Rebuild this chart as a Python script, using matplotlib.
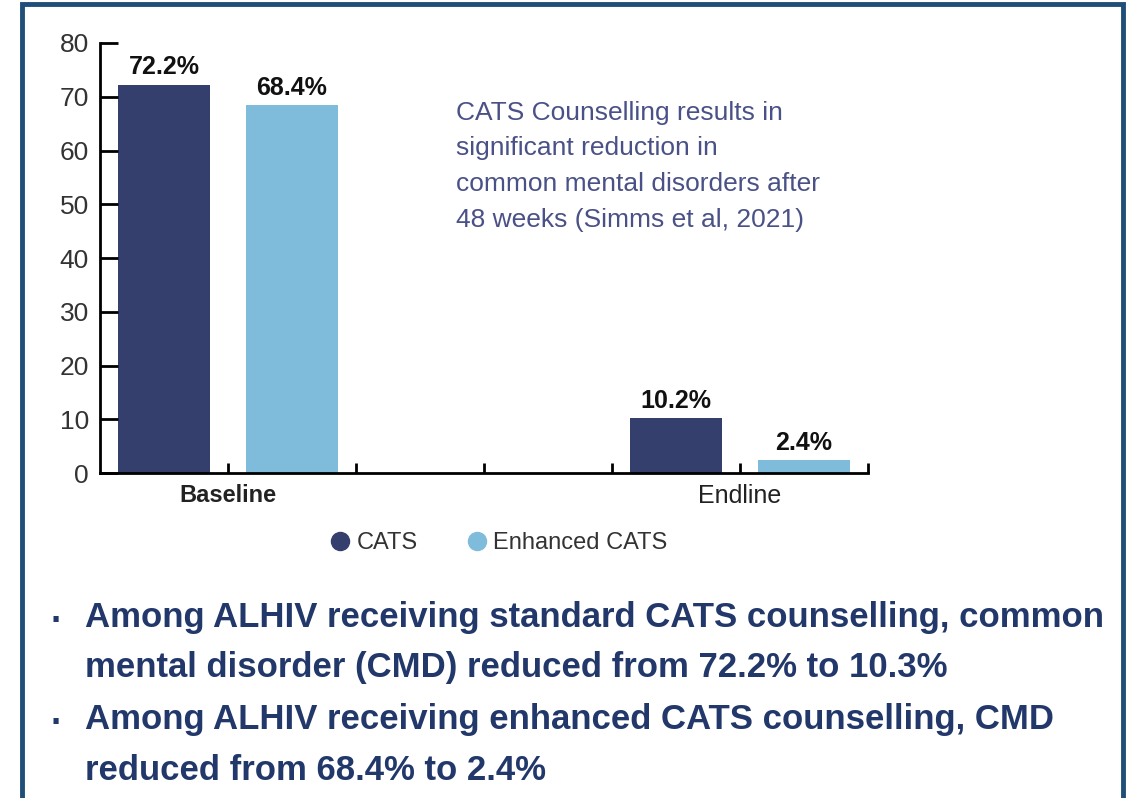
import matplotlib.pyplot as plt
from matplotlib.lines import Line2D
from matplotlib.patches import Rectangle

# data
groups = ["Baseline", "Endline"]
series_names = ["CATS", "Enhanced CATS"]
cats_values = [72.2, 10.2]
enhanced_values = [68.4, 2.4]
y_ticks = [0, 10, 20, 30, 40, 50, 60, 70, 80]

note_text = ("CATS Counselling results in\nsignificant reduction in\n"
             "common mental disorders after\n48 weeks (Simms et al, 2021)")
bullet_lines = [
    "Among ALHIV receiving standard CATS counselling, common",
    "mental disorder (CMD) reduced from 72.2% to 10.3%",
    "Among ALHIV receiving enhanced CATS counselling, CMD",
    "reduced from 68.4% to 2.4%",
]

plt.rcParams['font.family'] = ['Liberation Sans', 'DejaVu Sans']

dark_blue = "#343f6e"
light_blue = "#7fbcdc"
text_blue = "#4a5186"
bullet_blue = "#22386a"
frame_color = "#1f4e79"

W, H = 1130, 798
fig = plt.figure(figsize=(W / 100, H / 100), dpi=100)

# blue frame around the slide
fig.patches.append(Rectangle((22 / W, -0.05), 1101 / W, 1.05 - 4 / H,
                             transform=fig.transFigure, fill=False,
                             edgecolor=frame_color, linewidth=3.5))

ax = fig.add_axes([100 / W, 1 - 473 / H, 768 / W, 430 / H])

# bars: each group spans 4 units, bars centred at 0.5/1.5 and 4.5/5.5
group_pos = [0, 4]
bar_w = 0.72
b1 = ax.bar([p + 0.5 for p in group_pos], cats_values, bar_w, color=dark_blue, label=series_names[0])
b2 = ax.bar([p + 1.5 for p in group_pos], enhanced_values, bar_w, color=light_blue, label=series_names[1])
for bars in (b1, b2):
    ax.bar_label(bars, labels=[f"{v}%" for v in bars.datavalues], padding=4,
                 fontsize=18, fontweight='bold', color='#111111')

ax.set_xlim(0, 6)
ax.set_ylim(0, 80)
ax.set_yticks(y_ticks)
ax.tick_params(axis='y', direction='in', length=13, width=2, labelsize=19,
               labelcolor='#333333', pad=8)
ax.set_xticks([1, 2, 3, 4, 5, 6])
ax.set_xticklabels(["Baseline", "", "", "", "Endline", ""])
ax.tick_params(axis='x', direction='in', length=7, width=2, labelsize=18,
               labelcolor='#222222', pad=8)
ax.get_xticklabels()[0].set_fontweight('bold')
ax.get_xticklabels()[0].set_fontsize(17)
for side in ['top', 'right']:
    ax.spines[side].set_visible(False)
for side in ['left', 'bottom']:
    ax.spines[side].set_linewidth(2)

ax.text(2.78, 69.3, note_text, fontsize=19, color=text_blue, va='top', ha='left',
        linespacing=1.62)

# legend
handles = [Line2D([], [], marker='o', linestyle='', markersize=13, color=c)
           for c in (dark_blue, light_blue)]
fig.legend(handles, series_names, loc='center', bbox_to_anchor=(492 / W, 1 - 543 / H),
           ncol=2, frameon=False, fontsize=17, handletextpad=-0.3, columnspacing=1.5,
           labelcolor='#333333')

# bullet text
line_y = [617, 667, 720, 770]
for i, (txt, y) in enumerate(zip(bullet_lines, line_y)):
    if i % 2 == 0:
        fig.text(57 / W, 1 - (y + 5) / H, "\u00b7", fontsize=26, fontweight='bold',
                 color=bullet_blue, ha='center', va='center')
    fig.text(85 / W, 1 - y / H, txt, fontsize=25, fontweight='bold',
             color=bullet_blue, ha='left', va='center')

fig.savefig("out.png", dpi=100)
